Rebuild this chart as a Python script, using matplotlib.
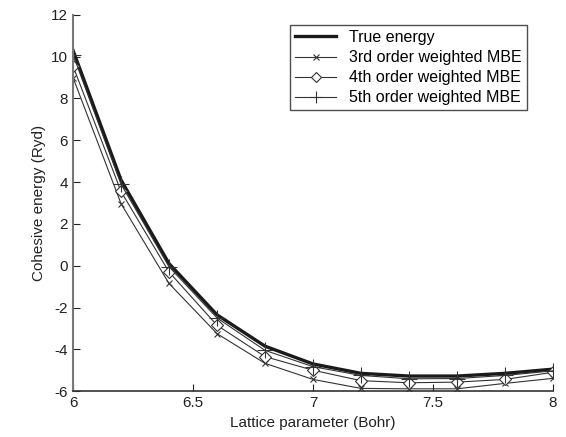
import matplotlib.pyplot as plt
import numpy as np

plt.rcParams['font.family'] = ['Liberation Sans', 'DejaVu Sans']
plt.rcParams['axes.unicode_minus'] = False

# lattice parameter grid (Bohr)
lattice = [6.0, 6.2, 6.4, 6.6, 6.8, 7.0, 7.2, 7.4, 7.6, 7.8, 8.0]

# cohesive energies (Ryd)
true_energy = [10.3, 4.1, 0.1, -2.35, -3.85, -4.7, -5.15, -5.28, -5.28, -5.15, -4.95]
mbe3 = [9.0, 2.97, -0.85, -3.25, -4.67, -5.44, -5.87, -5.89, -5.89, -5.63, -5.39]
mbe4 = [9.55, 3.55, -0.3, -2.85, -4.35, -5.0, -5.5, -5.6, -5.57, -5.44, -5.1]
mbe5 = [10.1, 3.9, -0.05, -2.5, -4.05, -4.83, -5.25, -5.41, -5.4, -5.25, -5.03]

fig = plt.figure(figsize=(5.66, 4.37), dpi=100)
ax = fig.add_axes([0.129, 0.105, 0.848, 0.861])

ax.plot(lattice, true_energy, '-', color='#1a1a1a', lw=2.4, label='True energy')
ax.plot(lattice, mbe3, '-', color='#333333', lw=0.8, marker='x', ms=5,
        mew=0.8, label='3rd order weighted MBE')
ax.plot(lattice, mbe4, '-', color='#333333', lw=0.8, marker='D', ms=6.5,
        mfc='white', mew=0.8, label='4th order weighted MBE')
ax.plot(lattice, mbe5, '-', color='#333333', lw=0.8, marker='+', ms=11,
        mew=0.8, label='5th order weighted MBE')

ax.set_xlim(6, 8)
ax.set_ylim(-6, 12)
ax.set_xticks([6, 6.5, 7, 7.5, 8])
ax.set_xticklabels(['6', '6.5', '7', '7.5', '8'])
ax.set_yticks(np.arange(-6, 13, 2))

ax.spines['top'].set_visible(False)
ax.spines['right'].set_visible(False)
ax.spines['left'].set_color('#777777')
ax.spines['left'].set_linewidth(1.5)
ax.spines['bottom'].set_color('#333333')
ax.spines['bottom'].set_linewidth(1.2)
ax.tick_params(direction='in', length=5, labelsize=11, colors='#222222')

ax.set_xlabel('Lattice parameter (Bohr)', fontsize=11, color='#222222')
ax.set_ylabel('Cohesive energy (Ryd)', fontsize=11, color='#222222')

leg = ax.legend(loc='upper right', bbox_to_anchor=(0.955, 0.985), fontsize=11.5,
                frameon=True, fancybox=False, edgecolor='#222222',
                handlelength=2.6, borderpad=0.3, labelspacing=0.32,
                borderaxespad=0.3, markerscale=0.8)
leg.get_frame().set_linewidth(1.0)

fig.savefig('out.png', dpi=100)
